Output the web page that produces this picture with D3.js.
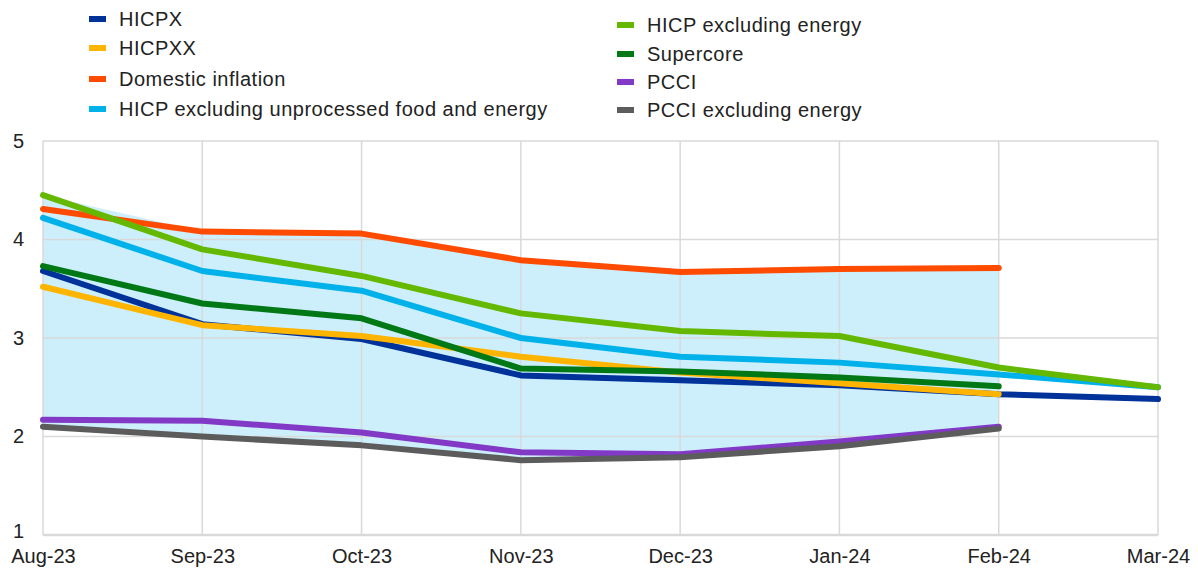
<!DOCTYPE html>
<html>
<head>
<meta charset="utf-8">
<script src="https://cdn.jsdelivr.net/npm/d3@7"></script>
<style>
  html, body { margin: 0; padding: 0; background: #fff; }
  svg { display: block; font-family: "Liberation Sans", Arial, sans-serif; }
</style>
</head>
<body>
<svg id="chart" width="1198" height="571"></svg>
<script>
const months = ["Aug-23", "Sep-23", "Oct-23", "Nov-23", "Dec-23", "Jan-24", "Feb-24", "Mar-24"];
const yTicks = [1, 2, 3, 4, 5];

const hicpx      = [3.68, 3.14, 2.99, 2.62, 2.57, 2.52, 2.43, 2.38];
const hicpxx     = [3.52, 3.13, 3.02, 2.81, 2.65, 2.54, 2.43, null];
const domestic   = [4.31, 4.08, 4.06, 3.79, 3.67, 3.70, 3.71, null];
const hicpExUfe  = [4.22, 3.68, 3.48, 3.00, 2.81, 2.75, 2.63, 2.50];
const hicpExEn   = [4.45, 3.90, 3.63, 3.25, 3.07, 3.02, 2.70, 2.50];
const supercore  = [3.73, 3.35, 3.20, 2.69, 2.66, 2.60, 2.51, null];
const pcci       = [2.17, 2.16, 2.04, 1.84, 1.82, 1.95, 2.10, null];
const pcciExEn   = [2.10, 2.00, 1.91, 1.76, 1.79, 1.90, 2.08, null];

const seriesNames = ["HICPX", "HICPXX", "Domestic inflation", "HICP excluding unprocessed food and energy",
                     "HICP excluding energy", "Supercore", "PCCI", "PCCI excluding energy"];
const seriesColors = ["#003299", "#FFB400", "#FF4B00", "#00B1EA", "#65B800", "#007816", "#8139C6", "#5C5C5C"];
const seriesValues = [hicpx, hicpxx, domestic, hicpExUfe, hicpExEn, supercore, pcci, pcciExEn];

const svg = d3.select("#chart");
const W = 1198, H = 571;
const m = { left: 43, right: 40, top: 141, bottom: 36 };

const x = d3.scalePoint().domain(months).range([m.left, W - m.right]);
const y = d3.scaleLinear().domain([1, 5]).range([H - m.bottom, m.top]);

// range envelope (Aug-23 .. Feb-24)
const envelope = months.slice(0, 7).map((mo, i) => {
  const vals = seriesValues.map(s => s[i]).filter(v => v != null);
  return { mo, lo: d3.min(vals), hi: d3.max(vals) };
});
svg.append("path")
  .datum(envelope)
  .attr("fill", "#00B1EA")
  .attr("fill-opacity", 0.2)
  .attr("d", d3.area().x(d => x(d.mo)).y0(d => y(d.lo)).y1(d => y(d.hi)));

// grid
const grid = svg.append("g");
grid.selectAll("line.h").data(yTicks).join("line")
  .attr("x1", m.left).attr("x2", W - m.right)
  .attr("y1", d => y(d)).attr("y2", d => y(d))
  .attr("stroke", "#d9d9d9").attr("stroke-width", d => d === 1 ? 2.5 : 1.5);
grid.selectAll("line.v").data(months).join("line")
  .attr("x1", d => x(d)).attr("x2", d => x(d))
  .attr("y1", y(5)).attr("y2", y(1))
  .attr("stroke", "#d9d9d9").attr("stroke-width", 1.5);

// y axis labels
const yAxis = d3.axisLeft(y).tickValues(yTicks).tickSize(0).tickPadding(19).tickFormat(d3.format("d"));
const ya = svg.append("g").attr("transform", `translate(${m.left},0)`).call(yAxis);
ya.select(".domain").remove();
ya.selectAll("text").attr("font-size", 20).attr("fill", "#222").attr("font-family", "Liberation Sans, Arial, sans-serif");
ya.selectAll(".tick").filter(d => d === 1).select("text").attr("dy", "0.1em");

// x axis labels
const xAxis = d3.axisBottom(x).tickSize(0).tickPadding(14);
const xa = svg.append("g").attr("transform", `translate(0,${H - m.bottom})`).call(xAxis);
xa.select(".domain").remove();
xa.selectAll("text").attr("font-size", 20).attr("fill", "#222").attr("font-family", "Liberation Sans, Arial, sans-serif");

// lines
const line = d3.line().defined(d => d.v != null).x(d => x(d.mo)).y(d => y(d.v));
seriesValues.forEach((vals, k) => {
  svg.append("path")
    .datum(months.map((mo, i) => ({ mo, v: vals[i] })))
    .attr("fill", "none")
    .attr("stroke", seriesColors[k])
    .attr("stroke-width", 6)
    .attr("stroke-linejoin", "round")
    .attr("stroke-linecap", "round")
    .attr("d", line);
});

// legend
const legendPos = [
  { x: 89, y: 19 }, { x: 89, y: 48 }, { x: 89, y: 79 }, { x: 89, y: 109 },
  { x: 617, y: 25 }, { x: 617, y: 54 }, { x: 617, y: 82 }, { x: 617, y: 110 }
];
const lg = svg.append("g");
seriesNames.forEach((name, k) => {
  const p = legendPos[k];
  lg.append("rect").attr("x", p.x).attr("y", p.y - 3).attr("width", 17).attr("height", 6)
    .attr("fill", seriesColors[k]);
  lg.append("text").attr("x", p.x + 30).attr("y", p.y).attr("dy", "0.35em")
    .attr("font-size", 20).attr("letter-spacing", "0.5px").attr("fill", "#222").text(name);
});
</script>
</body>
</html>
